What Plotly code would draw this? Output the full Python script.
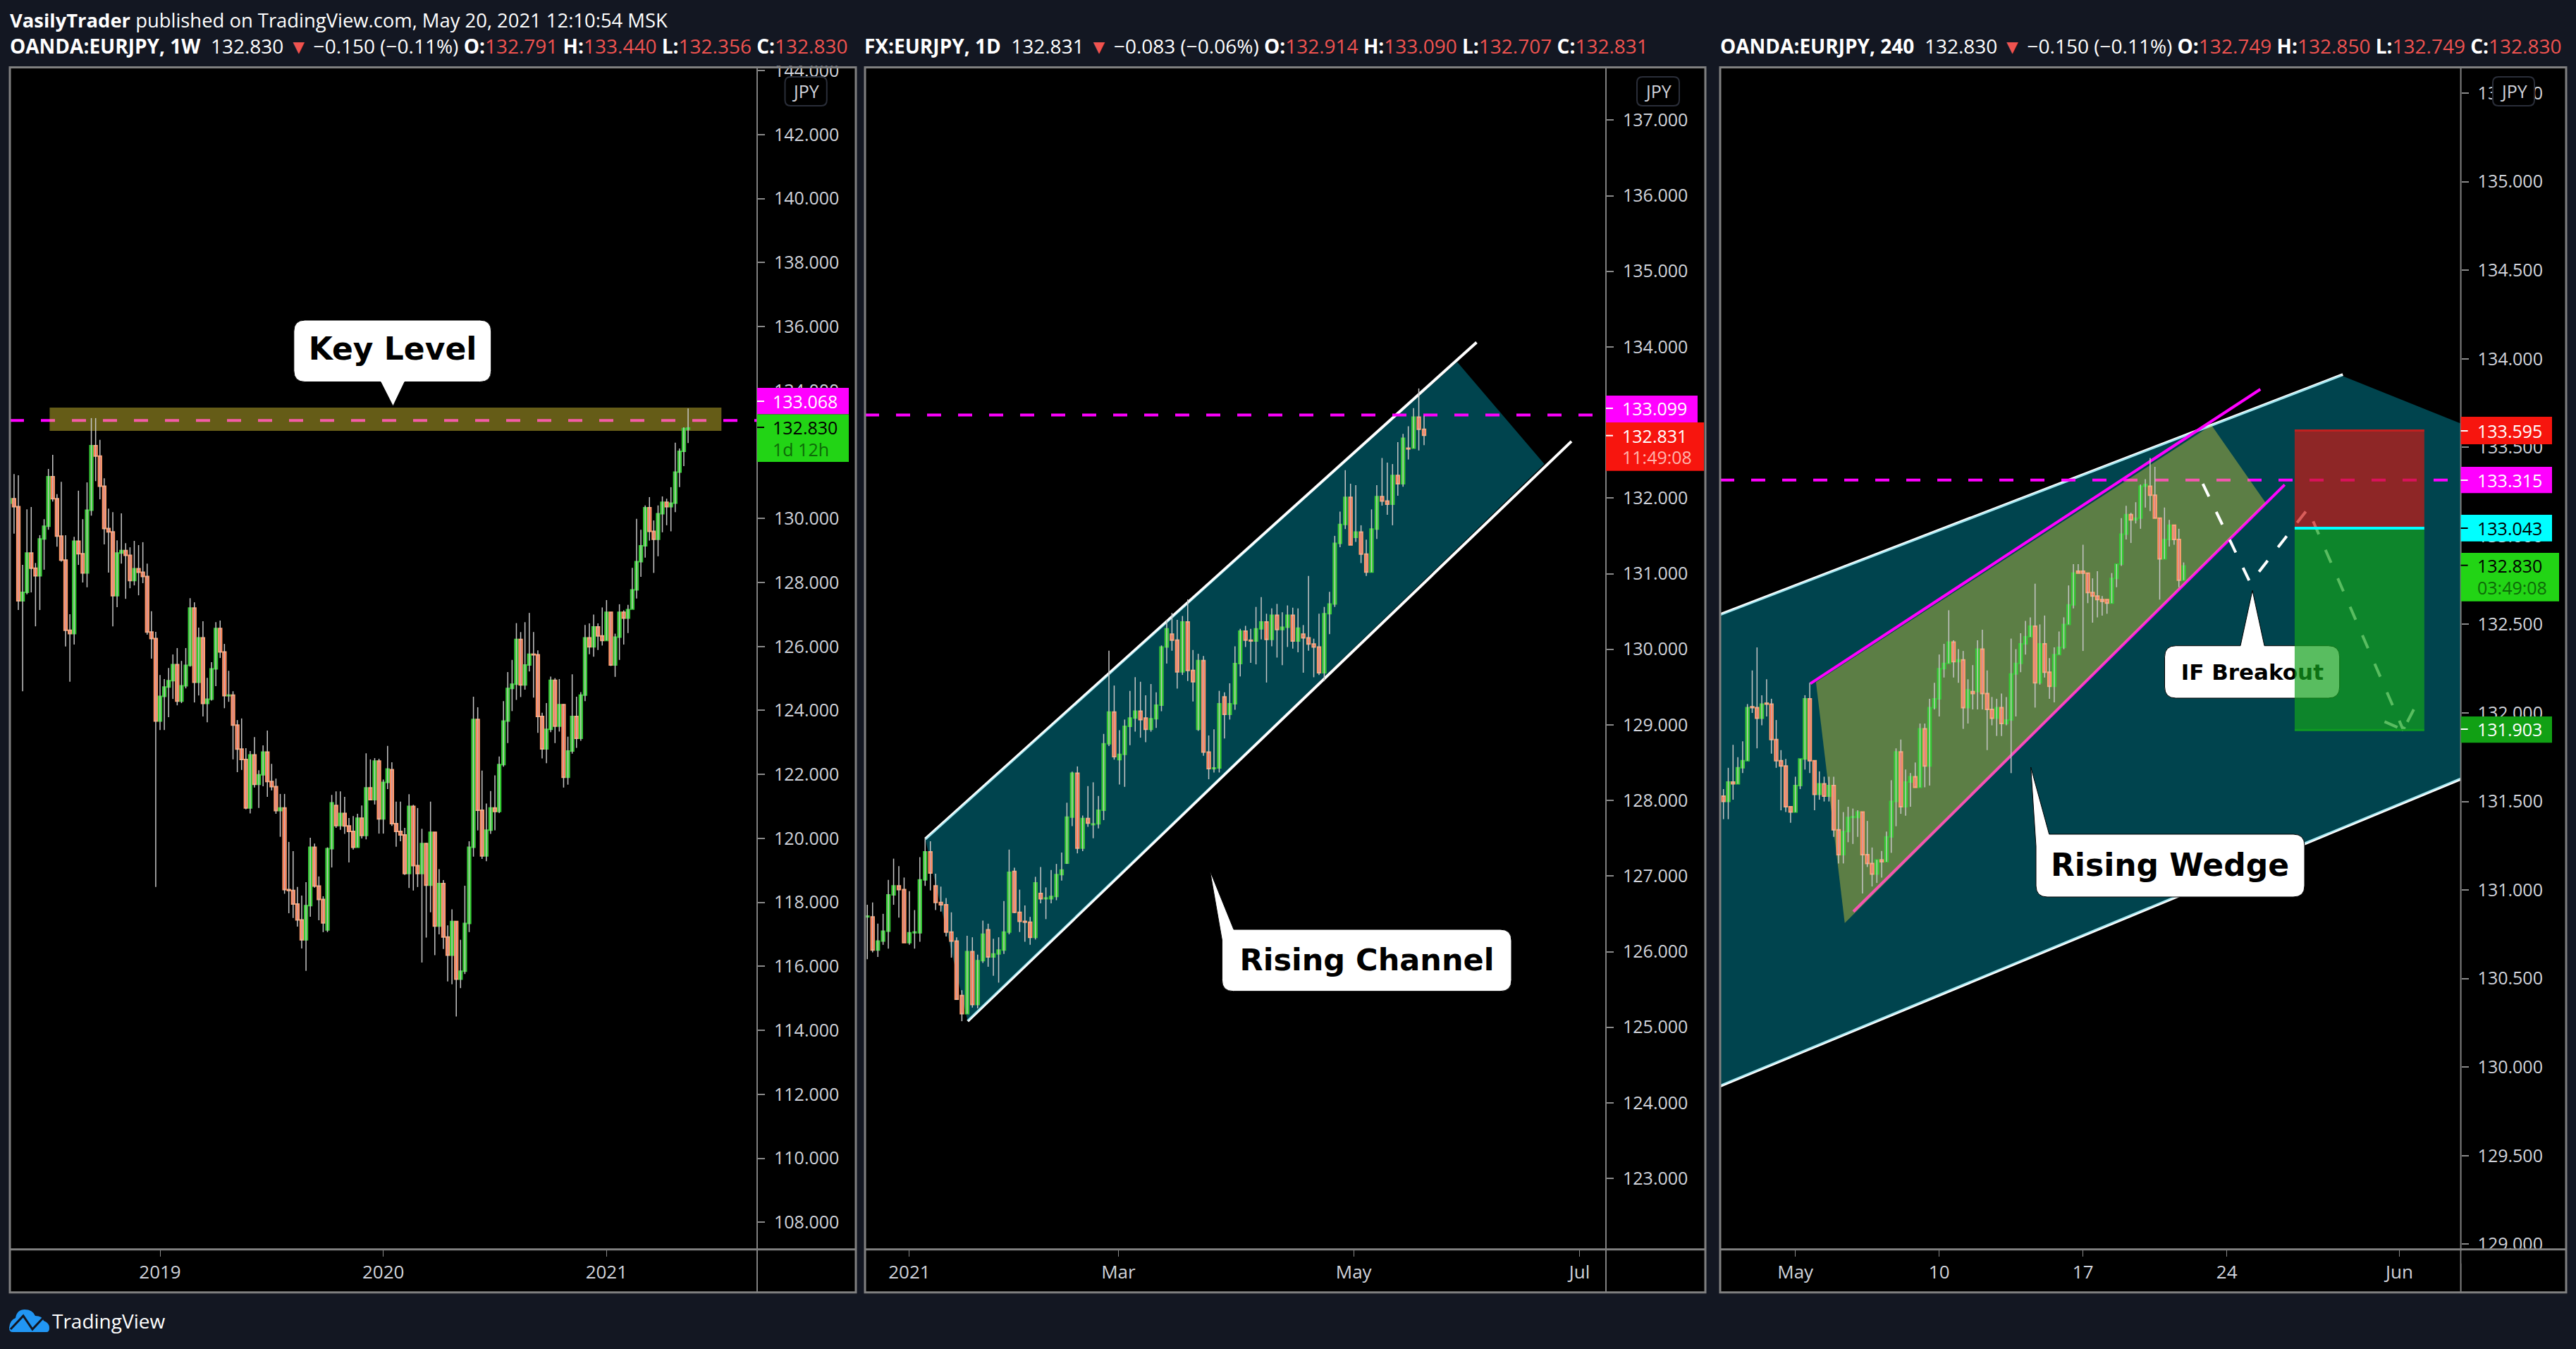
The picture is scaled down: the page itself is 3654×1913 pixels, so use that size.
import plotly.graph_objects as go

W, H = 3654, 1913
BG = "#131722"; FRAME = "#808080"; TXT = "#d1d4dc"; RED_T = "#ef5350"
UP_FILL, UP_LINE = "#22d415", "#35c835"
DN_FILL, DN_LINE = "#ff1500", "#ff9f70"
WICK = "#c6c6c6"

# ---------- weekly EURJPY ----------
w_open = [130.48,130.62,130.37,127.43,127.69,128.92,128.45,128.21,129.36,129.76,
131.31,130.62,129.45,128.70,126.51,126.40,129.29,128.90,128.30,130.26,
132.28,131.95,131.01,129.69,129.58,127.59,128.92,129.00,128.85,128.06,
128.43,128.32,128.19,126.45,126.25,123.67,124.44,124.73,124.93,125.43,
124.29,124.77,125.41,127.20,124.88,126.27,124.22,124.35,125.30,126.56,
125.83,124.46,124.48,123.54,122.79,122.47,120.95,122.61,121.69,121.99,
122.70,121.78,121.62,120.87,120.95,118.40,118.37,117.95,117.45,116.83,
117.90,119.72,118.51,118.09,117.14,119.68,121.03,120.40,120.78,120.39,
120.22,119.72,120.63,120.09,121.58,121.21,122.42,120.61,121.75,122.15,
120.46,120.22,120.11,118.90,121.00,119.15,118.90,119.84,118.54,120.19,
117.26,118.59,116.92,116.35,117.40,115.60,115.85,117.34,119.72,123.72,
120.88,119.45,120.26,120.95,120.84,122.31,123.67,124.69,124.82,126.22,
124.80,125.42,125.76,125.74,123.81,122.80,123.41,124.94,123.51,124.18,
121.91,122.73,123.81,123.13,124.48,126.27,125.99,126.61,126.33,126.19,
127.07,125.42,126.29,127.07,126.89,127.17,127.77,128.65,129.15,130.34,
129.60,129.35,130.15,130.51,130.37,130.48,131.45,132.10,132.79]
w_close = [130.62,130.37,127.43,127.69,128.92,128.45,128.21,129.36,129.76,131.31,
130.62,129.45,128.70,126.51,126.40,129.29,128.90,128.30,130.26,132.28,
131.95,131.01,129.69,129.58,127.59,128.92,129.00,128.85,128.06,128.43,
128.32,128.19,126.45,126.25,123.67,124.44,124.73,124.93,125.43,124.29,
124.77,125.41,127.20,124.88,126.27,124.22,124.35,125.30,126.56,125.83,
124.46,124.48,123.54,122.79,122.47,120.95,122.61,121.69,121.99,122.70,
121.78,121.62,120.87,120.95,118.40,118.37,117.95,117.45,116.83,117.90,
119.72,118.51,118.09,117.36,119.68,121.11,120.40,120.78,120.39,120.22,
119.72,120.63,120.09,121.58,121.21,122.42,120.61,121.75,122.17,120.46,
120.22,120.11,118.90,121.00,119.15,118.90,119.84,118.54,120.19,117.26,
118.59,116.92,116.35,117.40,115.60,115.85,117.34,119.72,123.72,120.88,
119.45,120.26,120.95,120.84,122.31,123.67,124.69,124.82,126.22,124.80,
125.42,125.76,125.74,123.81,122.80,123.41,124.94,123.51,124.18,121.91,
122.73,123.81,123.13,124.48,126.27,125.99,126.61,126.33,126.19,127.07,
125.42,126.29,127.07,126.89,127.15,127.77,128.65,129.15,130.34,129.60,
129.35,130.15,130.51,130.37,130.48,131.45,132.10,132.81,132.83]
w_high = [131.15,131.39,131.35,128.55,130.29,130.36,128.61,129.48,129.98,131.55,
131.99,130.76,131.15,129.48,127.01,129.43,130.87,129.98,131.13,133.14,
133.14,132.46,131.26,130.31,130.20,129.32,130.16,129.23,129.10,129.30,
129.17,129.26,128.59,127.10,126.46,125.11,124.98,125.33,125.75,125.95,
125.55,125.95,127.51,127.38,126.59,126.79,125.02,125.51,126.76,126.81,
126.08,125.24,124.60,123.70,123.75,122.82,122.73,123.17,122.13,122.91,
123.37,122.33,121.87,121.39,121.39,119.89,119.60,118.48,118.21,118.63,
120.02,119.84,118.81,118.19,119.72,121.36,121.47,121.47,121.30,120.64,
120.70,120.77,121.03,122.66,122.47,122.51,122.49,121.84,122.89,122.38,
121.15,121.15,120.33,121.38,121.05,120.95,120.30,119.86,121.15,120.20,
119.04,118.70,117.28,117.78,117.40,116.83,118.52,119.91,124.43,124.10,
122.12,121.09,121.48,121.97,122.56,124.29,125.20,125.58,126.73,126.45,
126.76,127.05,126.45,125.88,123.93,124.23,125.06,125.01,124.98,124.20,
123.18,125.13,124.43,124.57,126.67,126.72,127.00,126.72,127.22,127.45,
127.07,126.40,127.32,127.13,127.30,128.46,129.99,129.65,130.41,130.67,
129.94,130.41,130.69,130.62,130.98,132.37,132.19,132.85,133.44]
w_low = [129.68,129.53,127.14,124.60,127.63,127.69,126.63,127.14,128.40,129.65,
130.53,129.12,128.65,126.00,124.90,126.06,128.55,128.00,127.85,130.09,
131.17,130.60,129.19,128.31,126.63,127.23,128.59,127.49,127.82,127.91,
127.60,127.98,126.37,125.62,118.48,123.39,123.39,123.79,124.36,124.16,
124.23,124.69,125.37,124.25,124.47,123.81,123.63,124.31,124.76,125.64,
124.07,124.27,122.47,122.07,122.14,120.91,120.78,121.59,120.95,121.63,
121.30,121.50,120.77,120.05,118.27,117.66,117.51,117.24,116.56,115.86,
117.55,118.46,117.44,117.07,117.07,119.09,120.33,120.27,120.14,119.25,
119.65,119.72,120.00,119.97,121.19,121.06,120.15,120.15,121.54,120.39,
119.74,119.91,118.86,118.45,118.37,118.48,116.12,116.90,117.69,116.35,
117.00,116.54,115.53,115.44,114.43,115.32,115.76,117.07,119.43,120.25,
119.36,119.29,120.14,120.25,120.79,122.24,122.98,123.98,124.33,124.42,
124.65,125.22,124.40,123.30,122.50,122.35,123.32,122.98,123.34,121.59,
121.68,122.65,122.83,123.05,124.29,125.76,125.68,125.89,126.03,126.19,
125.39,125.05,125.58,126.06,126.42,127.18,127.50,128.18,128.78,129.31,
128.30,128.82,129.57,129.79,129.60,130.20,130.98,131.64,132.36]
w_tickvals = [35, 87, 139]
w_ticktext = ["2019", "2020", "2021"]
w_yticks = [108,110,112,114,116,118,120,122,124,126,128,130,132,134,136,138,140,142,144]

# ---------- daily EURJPY ----------
d_open = [126.46,126.46,126.02,126.14,126.27,126.75,126.87,126.82,126.12,126.25,
126.25,126.95,127.32,126.87,126.65,126.62,126.26,126.14,125.42,125.18,
126.00,125.30,125.88,126.29,125.93,125.97,126.02,126.26,127.06,126.52,
126.40,126.39,126.19,126.77,126.70,126.70,126.73,127.02,127.17,127.78,
128.36,127.37,127.76,127.68,127.69,127.87,128.75,129.17,128.54,128.61,
128.98,129.09,129.18,129.09,128.94,129.08,129.26,130.03,130.20,130.12,
129.70,130.36,129.72,128.94,129.85,128.64,128.42,128.43,129.37,129.14,
129.28,129.81,130.24,130.12,130.11,130.27,130.36,130.13,130.45,130.26,
130.29,130.45,130.11,130.20,130.15,130.07,130.03,129.69,130.47,130.60,
131.40,131.65,132.01,131.48,131.55,131.26,131.02,131.59,132.02,131.96,
131.92,132.30,132.19,132.66,132.66,133.07,132.91]
d_close = [126.47,126.02,126.14,126.27,126.75,126.87,126.82,126.12,126.25,126.26,
126.95,127.32,127.04,126.65,126.62,126.26,126.14,125.37,125.18,126.00,
125.30,125.88,126.23,125.93,125.97,126.02,126.26,127.05,126.52,126.40,
126.39,126.19,126.91,126.70,126.71,126.73,127.02,127.08,127.78,128.36,
127.37,127.76,127.70,127.69,127.87,128.75,129.17,128.58,128.61,128.98,
129.09,129.18,129.07,128.94,129.08,129.26,130.03,130.27,130.12,129.70,
130.36,129.72,129.57,129.85,128.64,128.42,128.43,129.28,129.14,129.28,
129.81,130.24,130.12,130.11,130.27,130.36,130.13,130.45,130.26,130.29,
130.45,130.11,130.28,130.15,130.07,130.03,129.69,130.47,130.60,131.40,
131.65,132.01,131.38,131.55,131.26,131.02,131.59,132.02,131.96,131.92,
132.30,132.19,132.79,132.65,133.07,132.91,132.83]
d_high = [126.62,126.65,126.37,126.50,126.95,127.23,127.13,126.98,126.80,126.55,
127.25,127.49,127.46,127.03,126.86,126.71,126.52,126.19,125.49,126.21,
126.19,125.96,126.41,126.37,126.17,126.19,126.67,127.35,127.11,126.82,
126.61,126.46,126.99,127.12,126.85,127.08,127.16,127.31,127.97,128.38,
128.45,127.80,128.19,128.24,128.06,128.88,129.98,129.52,128.93,129.07,
129.45,129.63,129.57,129.39,129.54,129.43,130.05,130.39,130.48,130.39,
130.44,130.66,129.99,129.94,129.91,128.86,128.94,129.45,129.43,129.55,
130.04,130.27,130.31,130.27,130.56,130.69,130.47,130.54,130.60,130.49,
130.58,130.55,130.54,130.32,130.97,130.14,130.47,130.56,130.76,131.50,
131.82,132.37,132.19,132.17,131.64,131.45,131.85,132.17,132.53,132.47,
132.45,132.74,132.85,132.95,133.19,133.45,133.09]
d_low = [125.90,125.99,125.93,126.09,126.04,126.62,126.45,126.12,126.09,126.04,
126.13,126.87,126.81,126.55,126.53,126.20,125.92,125.36,125.08,125.18,
125.26,125.25,125.85,125.80,125.68,125.59,125.97,126.23,126.51,126.26,
126.13,126.09,126.16,126.64,126.43,126.64,126.68,126.94,127.16,127.66,
127.30,127.33,127.65,127.50,127.63,127.74,128.72,128.54,128.21,128.18,
128.73,128.91,128.83,128.77,128.91,128.96,129.18,129.81,129.98,129.48,
129.66,129.58,129.31,128.92,128.59,128.28,128.37,128.37,128.82,129.07,
129.20,129.64,130.03,129.82,129.80,130.13,129.56,130.04,129.89,129.79,
130.03,130.01,129.96,129.69,129.98,129.63,129.66,129.58,130.20,130.56,
131.35,131.59,131.38,131.42,131.14,130.97,131.02,131.46,131.90,131.78,
131.64,132.03,132.15,132.51,132.66,132.63,132.70]
d_tickvals = [8, 47.8, 92.6, 135.6]
d_ticktext = ["2021", "Mar", "May", "Jul"]
d_yticks = [123,124,125,126,127,128,129,130,131,132,133,134,135,136,137]

# ---------- 240 minute EURJPY ----------
h_open = [131.43,131.53,131.50,131.61,131.60,131.69,131.73,132.035,132.03,131.97,
132.055,132.05,131.85,131.73,131.70,131.47,131.44,131.59,131.74,132.08,
131.73,131.54,131.60,131.53,131.59,131.34,131.20,131.33,131.41,131.41,
131.44,131.20,131.15,131.09,131.17,131.16,131.30,131.50,131.78,131.47,
131.61,131.64,131.58,131.91,131.70,132.03,132.08,132.25,132.28,132.40,
132.29,132.30,132.03,132.12,132.12,132.36,132.11,132.02,131.97,132.03,
131.94,131.96,132.22,132.28,132.39,132.43,132.49,132.17,132.39,132.23,
132.15,132.33,132.37,132.50,132.61,132.80,132.80,132.79,132.68,132.66,
132.64,132.64,132.62,132.76,132.84,133.01,133.12,133.09,133.10,133.28,
133.28,133.23,133.10,132.87,132.98,133.06,132.98,132.75]
h_close = [131.50,131.50,131.61,131.60,131.69,131.73,132.03,132.03,131.97,132.05,
132.05,131.85,131.73,131.70,131.47,131.44,131.59,131.74,132.08,131.73,
131.54,131.60,131.53,131.59,131.34,131.20,131.33,131.41,131.41,131.44,
131.20,131.15,131.09,131.17,131.16,131.30,131.50,131.78,131.47,131.61,
131.64,131.58,131.91,131.70,132.03,132.08,132.25,132.28,132.40,132.29,
132.30,132.03,132.13,132.11,132.36,132.11,132.02,131.97,132.03,131.94,
131.96,132.22,132.28,132.39,132.43,132.49,132.17,132.39,132.23,132.15,
132.33,132.37,132.50,132.61,132.79,132.79,132.79,132.68,132.66,132.64,
132.63,132.62,132.76,132.84,133.01,133.12,133.09,133.10,133.28,133.29,
133.23,133.10,132.87,132.98,133.06,132.98,132.75,132.83]
h_high = [131.57,131.57,131.69,131.82,131.75,131.84,132.05,132.24,132.37,132.10,
132.19,132.08,131.96,131.79,131.74,131.47,131.64,131.74,132.10,132.17,
131.73,131.67,131.64,131.64,131.64,131.51,131.44,131.47,131.46,131.45,
131.44,131.39,131.24,131.17,131.22,131.33,131.62,131.80,131.85,131.68,
131.66,131.72,131.94,131.94,132.08,132.17,132.33,132.39,132.58,132.41,
132.36,132.35,132.19,132.27,132.41,132.47,132.24,132.09,132.08,132.11,
132.09,132.42,132.36,132.45,132.52,132.54,132.73,132.50,132.55,132.31,
132.37,132.46,132.54,132.72,132.84,132.84,132.95,132.79,132.76,132.80,
132.66,132.64,132.79,132.84,133.10,133.17,133.13,133.19,133.29,133.32,
133.44,133.39,133.10,133.16,133.09,133.06,133.04,132.85]
h_low = [131.43,131.40,131.40,131.51,131.60,131.66,131.73,132.00,131.80,131.93,
131.98,131.77,131.69,131.45,131.44,131.38,131.44,131.57,131.68,131.66,
131.45,131.51,131.50,131.50,131.30,131.15,131.15,131.27,131.26,131.30,
130.98,131.13,131.02,131.04,131.07,131.16,131.21,131.36,131.43,131.42,
131.47,131.58,131.58,131.58,131.59,132.02,131.98,132.20,132.28,132.20,
132.17,131.91,131.94,132.02,132.02,132.02,131.79,131.93,131.87,131.87,
131.93,131.66,131.98,132.23,132.33,132.43,132.03,132.16,132.20,132.08,
132.06,132.33,132.36,132.50,132.59,132.79,132.35,132.62,132.51,132.54,
132.55,132.56,132.62,132.71,132.83,132.98,132.96,133.07,133.04,133.16,
133.14,133.10,132.64,132.87,132.94,132.95,132.71,132.75]
h_tickvals = [16, 46, 76, 106, 142]
h_ticktext = ["May", "10", "17", "24", "Jun"]
h_yticks = [129,129.5,130,130.5,131,131.5,132,132.5,133,133.5,134,134.5,135,135.5]

# ---------- chart drawings, in (bar index, price) ----------
key_band_x = [9.29, 165.76]; key_band_y = [132.74, 133.47]
key_level = 133.068
ch_upper_x = [11.02, 116.0];  ch_upper_y = [127.49, 134.06]
ch_lower_x = [19.11, 134.06]; ch_lower_y = [125.08, 132.75]
ch_fill_x = [11.02, 112.3, 128.9, 19.11]; ch_fill_y = [127.49, 133.80, 132.45, 125.08]
d_level = 133.099
big_upper_x = [0.31, 130.2];  big_upper_y = [132.556, 133.911]
big_lower_x = [0.31, 154.9];  big_lower_y = [129.893, 131.628]
big_fill_x = [0.31, 129.7, 154.9, 154.9, 0.31]; big_fill_y = [132.556, 133.908, 133.633, 131.628, 129.893]
wedge_up_x = [19.13, 113.0];  wedge_up_y = [132.166, 133.828]
wedge_lo_x = [28.1, 118.07];  wedge_lo_y = [130.878, 133.289]
wedge_fill_x = [20.3, 102.8, 114.1, 26.3]; wedge_fill_y = [132.174, 133.625, 133.187, 130.813]
h_level = 133.315
zig_x = [101.0, 110.9, 122.9, 142.8]; zig_y = [133.294, 132.734, 133.152, 131.904]
barb_x = [145.0, 142.8, 138.9]; barb_y = [132.02, 131.904, 131.951]
pos_x = [120.15, 147.2]; pos_stop, pos_entry, pos_target = 133.595, 133.043, 131.903

# ---------- layout geometry in page pixels ----------
TOP, BOT, FOOT = 95.5, 1771.7, 1832.7
PANELS = [
    dict(l=14,   a=1074,   r=1214, x0=13.85,  dx=6.09, py=191.0,  pv=142, k=45.36),
    dict(l=1227, a=2278,   r=2419, x0=1230.3, dx=7.45, py=920.7,  pv=130, k=107.2),
    dict(l=2440, a=3490.6, r=3640, x0=2437.9, dx=6.8,  py=257.7,  pv=135, k=251.1),
]
def ix(p, px): return (px - p["x0"]) / p["dx"]
def iy(p, py): return p["pv"] - (py - p["py"]) / p["k"]
def fx(x): return x / W
def fy(y): return 1 - y / H

shapes, annos = [], []
FONT = "Open Sans"; CALL = "DejaVu Sans"

def rr_path(l, t, r, b, rad, tr_x, tr_y, tail=None):
    c = []
    if tail and tail["kind"] == "corner":
        c.append(("M", tail["a"], t))
    else:
        c.append(("M", l + rad, t))
    if tail and tail["kind"] == "top":
        c += [("L", tail["a"], t), ("L", *tail["tip"]), ("L", tail["b"], t)]
    c += [("L", r - rad, t), ("Q", r, t, r, t + rad), ("L", r, b - rad), ("Q", r, b, r - rad, b)]
    if tail and tail["kind"] == "bottom":
        c += [("L", tail["b"], b), ("L", *tail["tip"]), ("L", tail["a"], b)]
    c += [("L", l + rad, b), ("Q", l, b, l, b - rad)]
    if tail and tail["kind"] == "corner":
        c += [("L", l, tail["b"]), ("L", *tail["tip"])]
    else:
        c += [("L", l, t + rad), ("Q", l, t, l + rad, t)]
    out = []
    for s in c:
        vals = s[1:]
        pts = [f"{tr_x(vals[i])},{tr_y(vals[i+1])}" for i in range(0, len(vals), 2)]
        out.append(s[0] + " " + " ".join(pts))
    return " ".join(out) + " Z"

def paper_rect(x0, y0, x1, y1, color, layer="above", lw=0, lc=None):
    shapes.append(dict(type="rect", xref="paper", yref="paper", x0=fx(x0), x1=fx(x1), y0=fy(y1), y1=fy(y0),
                       fillcolor=color, line=dict(width=lw, color=lc or color), layer=layer))

def paper_line(x0, y0, x1, y1, color, w, layer="above"):
    shapes.append(dict(type="line", xref="paper", yref="paper", x0=fx(x0), x1=fx(x1), y0=fy(y0), y1=fy(y1),
                       line=dict(color=color, width=w), layer=layer))

def label(x, y, text, size=25, color=TXT, anchor="left", family=FONT):
    annos.append(dict(xref="paper", yref="paper", x=fx(x), y=fy(y), text=text, showarrow=False, xanchor=anchor,
                      yanchor="middle", align="left", font=dict(family=family, size=size, color=color), borderpad=0, borderwidth=0))

def data_shape(n, kind, **kw):
    shapes.append(dict(type=kind, xref=f"x{n}", yref=f"y{n}", **kw))

def poly(xs, ys):
    return "M " + " L ".join(f"{a},{b}" for a, b in zip(xs, ys)) + " Z"

def tag(p, y0, y1, color, x1):
    path = rr_path(p["a"], y0, x1, y1, 0, fx, fy)
    shapes.append(dict(type="path", xref="paper", yref="paper", path=path, fillcolor=color, line=dict(width=0), layer="above"))

# frames
for p in PANELS:
    paper_rect(p["l"], TOP, p["r"], FOOT, "#000000", layer="below")

fig = go.Figure()

def add_candles(n, p, o, h, l, c, width):
    xs = list(range(len(o)))
    wx, wy = [], []
    for i in xs:
        wx += [i, i, None]; wy += [l[i], h[i], None]
    fig.add_trace(go.Scatter(x=wx, y=wy, mode="lines", line=dict(color=WICK, width=1.5), hoverinfo="skip",
                             xaxis=f"x{n}", yaxis=f"y{n}", showlegend=False))
    fills = [UP_FILL if c[i] >= o[i] else DN_FILL for i in xs]
    edges = [UP_LINE if c[i] >= o[i] else DN_LINE for i in xs]
    fig.add_trace(go.Bar(x=xs, y=[max(abs(c[i] - o[i]), 0.004) for i in xs], base=[min(o[i], c[i]) for i in xs],
                         width=width, marker=dict(color=fills, line=dict(color=edges, width=2)), hoverinfo="skip",
                         xaxis=f"x{n}", yaxis=f"y{n}", showlegend=False))

P1, P2, P3 = PANELS
MAG = "#ff00ff"; DASH = "20px,24px"

# ---- panel 1 drawings
data_shape(1, "line", x0=ix(P1, P1["l"]), x1=ix(P1, P1["a"]), y0=key_level, y1=key_level,
           line=dict(color=MAG, width=4, dash=DASH), layer="below")
data_shape(1, "rect", x0=key_band_x[0], x1=key_band_x[1], y0=key_band_y[0], y1=key_band_y[1],
           fillcolor="rgba(229,210,52,0.44)", line=dict(width=0), layer="below")

# ---- panel 2 drawings
for xs, ys in ((ch_upper_x, ch_upper_y), (ch_lower_x, ch_lower_y)):
    data_shape(2, "line", x0=xs[0], x1=xs[1], y0=ys[0], y1=ys[1], line=dict(color="#ffffff", width=4), layer="below")
data_shape(2, "path", path=poly(ch_fill_x, ch_fill_y), fillcolor="rgba(0,188,217,0.36)", line=dict(width=0), layer="below")
data_shape(2, "line", x0=ix(P2, P2["l"]), x1=ix(P2, 2260), y0=d_level, y1=d_level,
           line=dict(color=MAG, width=4, dash=DASH), layer="below")

# ---- panel 3 drawings
for xs, ys in ((big_upper_x, big_upper_y), (big_lower_x, big_lower_y)):
    data_shape(3, "line", x0=xs[0], x1=xs[1], y0=ys[0], y1=ys[1], line=dict(color="#ffffff", width=4), layer="below")
data_shape(3, "path", path=poly(big_fill_x, big_fill_y), fillcolor="rgba(0,188,217,0.36)", line=dict(width=0), layer="below")
data_shape(3, "line", x0=wedge_up_x[0], x1=wedge_up_x[1], y0=wedge_up_y[0], y1=wedge_up_y[1], line=dict(color=MAG, width=4), layer="below")
data_shape(3, "line", x0=wedge_lo_x[0], x1=wedge_lo_x[1], y0=wedge_lo_y[0], y1=wedge_lo_y[1], line=dict(color=MAG, width=4), layer="below")
data_shape(3, "line", x0=ix(P3, P3["l"]), x1=ix(P3, 3472), y0=h_level, y1=h_level,
           line=dict(color=MAG, width=4, dash=DASH), layer="below")
data_shape(3, "path", path=poly(wedge_fill_x, wedge_fill_y), fillcolor="rgba(229,215,58,0.40)", line=dict(width=0), layer="below")
zig = "M " + " L ".join(f"{a},{b}" for a, b in zip(zig_x, zig_y))
data_shape(3, "path", path=zig, line=dict(color="#ffffff", width=4, dash=DASH), layer="below")
for j in (0, 2):
    data_shape(3, "line", x0=barb_x[j], x1=barb_x[1], y0=barb_y[j], y1=barb_y[1], line=dict(color="#ffffff", width=4, dash="20px,8px"), layer="below")

# ---- callouts (white balloons) and their text
def callout(n, p, l, t, r, b, tail, text, cx, cy, size):
    path = rr_path(l, t, r, b, 16, lambda v: ix(p, v), lambda v: iy(p, v), tail)
    data_shape(n, "path", path=path, fillcolor="#ffffff", line=dict(color="#000000", width=1), layer="below")
    fig.add_trace(go.Scatter(x=[ix(p, cx)], y=[iy(p, cy)], mode="text", text=[f"<b>{text}</b>"], textposition="middle center",
                             textfont=dict(family=CALL, size=size, color="#000000"), hoverinfo="skip",
                             xaxis=f"x{n}", yaxis=f"y{n}", showlegend=False))

add_candles(1, P1, w_open, w_high, w_low, w_close, 0.70)
add_candles(2, P2, d_open, d_high, d_low, d_close, 0.58)
add_candles(3, P3, h_open, h_high, h_low, h_close, 0.64)

callout(1, P1, 416.8, 454, 696.7, 541.5, dict(kind="bottom", a=540, b=574, tip=(557.5, 576)), "Key Level", 557, 499, 44)
callout(2, P2, 1733.4, 1318, 2144, 1405.7, dict(kind="corner", a=1750, b=1333, tip=(1716.4, 1235)), "Rising Channel", 1939, 1365, 43)
callout(3, P3, 2888, 1183, 3269, 1272, dict(kind="corner", a=2906.7, b=1200, tip=(2880.7, 1088)), "Rising Wedge", 3078, 1231, 44)
callout(3, P3, 3070.5, 915.7, 3318.7, 990, dict(kind="top", a=3178, b=3212, tip=(3195, 837.3)), "IF Breakout", 3194.8, 956, 31)

# ---- position box, on top of everything in the chart area
data_shape(3, "rect", x0=pos_x[0], x1=pos_x[1], y0=pos_entry, y1=pos_stop, fillcolor="rgba(203,26,21,0.7)", line=dict(width=0), layer="above")
data_shape(3, "rect", x0=pos_x[0], x1=pos_x[1], y0=pos_target, y1=pos_entry, fillcolor="rgba(18,161,28,0.7)", line=dict(width=0), layer="above")
data_shape(3, "line", x0=pos_x[0], x1=pos_x[1], y0=pos_stop, y1=pos_stop, line=dict(color="#c02020", width=3), layer="above")
data_shape(3, "line", x0=pos_x[0], x1=pos_x[1], y0=pos_target, y1=pos_target, line=dict(color="#0f9a22", width=3), layer="above")
data_shape(3, "line", x0=pos_x[0], x1=pos_x[1], y0=pos_entry, y1=pos_entry, line=dict(color="#00ffff", width=4), layer="above")

# ---- frames and masks
for p in PANELS:
    paper_rect(p["a"] + 1, 78, p["r"] + 2, TOP - 2, BG)
    paper_line(p["a"], TOP, p["a"], FOOT, FRAME, 2)
    paper_line(p["l"], BOT, p["r"], BOT, FRAME, 3)
    paper_rect(p["l"], TOP, p["r"], FOOT, "rgba(0,0,0,0)", lw=3, lc=FRAME)
paper_rect(P3["a"] + 1, BOT + 2, P3["r"] - 2, BOT + 20, "#000000")

# ---- price tags
def price_tags(p, rows, text_x):
    for y0, y1, color, x1, level_y, dash_color in rows:
        tag(p, y0, y1, color, x1)
        paper_line(p["a"], level_y, p["a"] + 10, level_y, dash_color, 2)

GREEN_T, RED_TAG, DK_GREEN = "#22d415", "#f7150e", "#11a014"
price_tags(P1, [(550, 587.5, MAG, 1204, 569, "#ffffff"), (587.5, 655, GREEN_T, 1204, 606, "#000000")], 1096)
label(1096, 569, "133.068", color="#ffffff"); label(1096, 606, "132.830", color="#000000"); label(1096, 637.5, "1d 12h", color="#0e6a08")
price_tags(P2, [(561, 599, MAG, 2408, 579, "#ffffff"), (599, 667.7, RED_TAG, 2417, 617.7, "#ffffff")], 2301)
label(2301, 579, "133.099", color="#ffffff"); label(2301, 617.7, "132.831", color="#ffffff"); label(2301, 648, "11:49:08", color="#ffb4ac")
price_tags(P3, [(591, 630, RED_TAG, 3620, 611, "#ffffff"), (662, 699.3, MAG, 3620, 681, "#ffffff"),
                (730, 767.7, "#00ffff", 3620, 749, "#000000"), (784, 852.7, GREEN_T, 3630, 801.7, "#000000"),
                (1016, 1053.3, DK_GREEN, 3620, 1034, "#ffffff")], 3514)
label(3514, 611, "133.595", color="#ffffff"); label(3514, 681, "133.315", color="#ffffff"); label(3514, 749, "133.043", color="#000000")
label(3514, 801.7, "132.830", color="#000000"); label(3514, 833, "03:49:08", color="#0e6a08"); label(3514, 1034, "131.903", color="#ffffff")

# ---- JPY badges
for l, r in ((1113.5, 1172.8), (2322, 2382), (3536, 3595)):
    path = rr_path(l, 109, r, 150, 8, fx, fy)
    shapes.append(dict(type="path", xref="paper", yref="paper", path=path, fillcolor="#000000",
                       line=dict(color="#2a2e39", width=2), layer="above"))
    label((l + r) / 2, 129, "JPY", size=25, anchor="center")

# ---- headers
def head(x, sym, last, chg, o, h, l, c):
    r = lambda s: f'<span style="color:{RED_T}">{s}</span>'
    return (x, f"<b>{sym}</b>  {last} {r('▼')} {chg} <b>O:</b>{r(o)} <b>H:</b>{r(h)} <b>L:</b>{r(l)} <b>C:</b>{r(c)}")

label(14, 28, "<b>VasilyTrader</b> published on TradingView.com, May 20, 2021 12:10:54 MSK", size=27.4, color="#ffffff")
for x, t in (head(14, "OANDA:EURJPY, 1W", "132.830", "−0.150 (−0.11%)", "132.791", "133.440", "132.356", "132.830"),
             head(1226, "FX:EURJPY, 1D", "132.831", "−0.083 (−0.06%)", "132.914", "133.090", "132.707", "132.831"),
             head(2440, "OANDA:EURJPY, 240", "132.830", "−0.150 (−0.11%)", "132.749", "132.850", "132.749", "132.830")):
    label(x, 65, t, size=28, color="#ffffff")

# ---- footer logo
logo = ("M 13 1883 Q 14 1872 22 1869 Q 24 1857 35 1857 Q 46 1857 50 1866 Q 60 1866 62 1873 Q 70 1876 70 1883 "
        "Q 70 1889 66 1889 L 18 1889 Q 13 1889 13 1883 Z")
def logo_path(s):
    out = []; toks = s.split(); i = 0
    while i < len(toks):
        if toks[i] in "MLQZ":
            out.append(toks[i]); i += 1
        else:
            out.append(f"{fx(float(toks[i]))},{fy(float(toks[i+1]))}"); i += 2
    return " ".join(out)
shapes.append(dict(type="path", xref="paper", yref="paper", path=logo_path(logo), fillcolor="#2196f3", line=dict(width=0), layer="above"))
shapes.append(dict(type="path", xref="paper", yref="paper", path=logo_path("M 15 1885 L 33 1866 L 46 1885 L 62 1868"),
                   line=dict(color=BG, width=3), layer="above"))
label(73.5, 1873, "TradingView", size=28, color="#ffffff")

layout = dict(width=W, height=H, margin=dict(l=0, r=0, t=0, b=0, pad=0, autoexpand=False), paper_bgcolor=BG, plot_bgcolor="#000000",
              showlegend=False, barmode="overlay", hovermode=False, shapes=shapes, annotations=annos,
              font=dict(family=FONT, size=25, color=TXT))
axes = [(P1, w_tickvals, w_ticktext, w_yticks, len(w_open)), (P2, d_tickvals, d_ticktext, d_yticks, len(d_open)),
        (P3, h_tickvals, h_ticktext, h_yticks, len(h_open))]
for n, (p, tv, tt, yt, _) in enumerate(axes, start=1):
    layout[f"xaxis{n}"] = dict(domain=[fx(p["l"]), fx(p["a"])], range=[ix(p, p["l"]), ix(p, p["a"])], anchor=f"y{n}",
                               tickmode="array", tickvals=tv, ticktext=tt, ticks="outside", ticklen=9, tickwidth=1, tickcolor="#8a8a8a",
                               showgrid=False, zeroline=False, showline=False, ticklabelstandoff=0,
                               tickfont=dict(family=FONT, size=26, color=TXT), fixedrange=True)
    layout[f"yaxis{n}"] = dict(domain=[fy(BOT), fy(TOP)], range=[iy(p, BOT), iy(p, TOP)], anchor=f"x{n}", side="right",
                               tickmode="array", tickvals=yt, ticktext=[f"{v:.3f}" for v in yt], ticks="outside", ticklen=10, tickwidth=2,
                               tickcolor="#8a8a8a", showgrid=False, zeroline=False, showline=False, ticklabelstandoff=8,
                               tickfont=dict(family=FONT, size=25, color=TXT), fixedrange=True)
fig.update_layout(**layout)
fig.write_html("out.html", config={"displayModeBar": False},
               post_script="document.body.style.margin='0';document.body.style.background='#131722';document.body.style.overflow='hidden';")
